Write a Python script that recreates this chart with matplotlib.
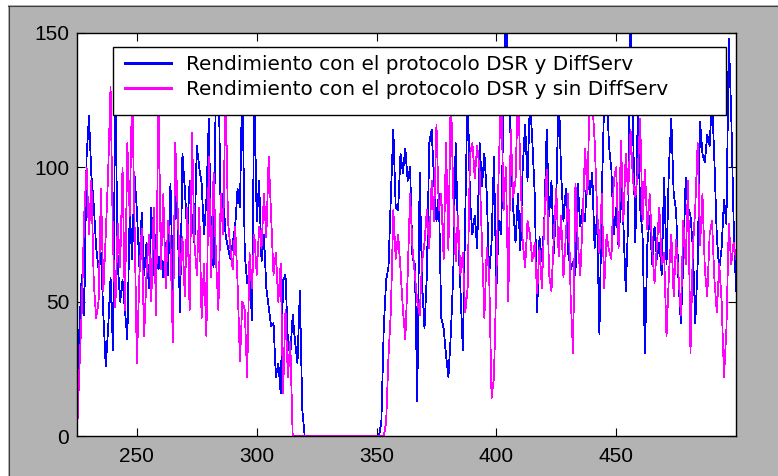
import numpy as np
import matplotlib
matplotlib.use('Agg')
import matplotlib.pyplot as plt
from matplotlib.patches import Rectangle
from matplotlib.lines import Line2D

W, H = 778, 476
DPI = 100
plt.rcParams['font.family'] = ['Liberation Sans', 'DejaVu Sans']

# ---------------- data ----------------
x_start = 225

blue_values = [
    0, 40, 60, 45, 104, 119, 97, 86, 70, 62,
    68, 45, 26, 40, 59, 32, 130, 64, 50, 58,
    47, 36, 84, 66, 97, 84, 63, 83, 60, 72,
    55, 85, 60, 75, 62, 68, 59, 72, 60, 94,
    54, 90, 80, 46, 105, 92, 75, 95, 80, 72,
    108, 100, 94, 75, 88, 118, 70, 63, 135, 140,
    80, 90, 75, 70, 66, 72, 78, 92, 85, 135,
    68, 57, 62, 43, 130, 80, 95, 65, 75, 55,
    48, 41, 42, 22, 27, 16, 58, 60, 35, 30,
    45, 35, 27, 54, 10, 0,
    0, 0, 0, 0, 0, 0, 0, 0, 0, 0,
    0, 0, 0, 0, 0, 0, 0, 0, 0, 0,
    0, 0, 0, 0, 0, 0, 0, 0, 0, 0,
    0,
    5, 40, 58, 63, 90, 114, 85, 84, 105, 98,
    107, 95, 100, 66, 64, 13, 98, 57, 40, 60,
    109, 114, 95, 80, 90, 44, 40, 30, 22, 38,
    60, 109, 75, 55, 32, 80, 130, 88, 75, 82,
    70, 109, 93, 105, 90, 60, 72, 104, 54, 80,
    75, 125, 160, 130, 110, 85, 72, 90, 69, 100,
    116, 95, 125, 110, 90, 46, 74, 65, 80, 114,
    82, 95, 68, 88, 130, 98, 80, 92, 68, 62,
    65, 60, 94, 78, 85, 80, 100, 90, 98, 70,
    82, 38, 90, 125, 130, 108, 99, 75, 85,
    70, 92, 79, 54, 80, 160, 115, 72, 119, 85,
    75, 31, 71, 82, 64, 78, 66, 72, 60, 96,
    64, 100, 118, 90, 84, 58, 42, 65, 96, 85,
    82, 70, 42, 64, 117, 105, 102, 112, 108, 126,
    102, 74, 62, 70, 88, 79, 148, 120, 80, 54,
]

magenta_values = [
    0, 25, 47, 82, 100, 75, 95, 57, 44, 50,
    92, 54, 75, 98, 130, 72, 48, 79, 63, 100,
    47, 109, 82, 130, 80, 27, 59, 77, 37, 60,
    75, 50, 85, 45, 130, 62, 90, 55, 80, 72,
    35, 109, 84, 60, 74, 52, 85, 47, 113, 72,
    60, 85, 44, 64, 37, 104, 59, 98, 66, 47,
    90, 75, 130, 80, 70, 62, 78, 57, 28, 50,
    47, 22, 68, 55, 75, 60, 78, 70, 90, 74,
    104, 82, 60, 68, 50, 64, 16, 47, 22, 35,
    0, 0, 0, 0, 0, 0, 0, 0, 0, 0,
    0, 0, 0, 0, 0, 0, 0, 0, 0, 0,
    0, 0, 0, 0, 0, 0, 0, 0, 0, 0,
    0, 0, 0, 0, 0, 0, 0, 0, 0,
    5, 30, 47, 84, 66, 75, 62, 47, 36, 60,
    90, 70, 60, 50, 45, 65, 72, 84, 70, 95,
    80, 116, 84, 90, 66, 109, 69, 130, 90, 65,
    82, 60, 68, 46, 55, 105, 109, 96, 108, 99,
    72, 44, 70, 60, 14, 22, 59, 100,
    130, 84, 100, 50, 114, 89, 95, 130, 100, 72,
    63, 80, 75, 65, 72, 53, 70, 55, 80, 99,
    60, 54, 75, 92, 67, 82, 59, 75, 90, 52,
    31, 94, 72, 60, 80, 107, 90, 130, 125, 110,
    85, 68, 90, 55, 75, 69, 66, 95, 100,
    70, 110, 80, 105, 90, 114, 95, 89, 98, 118,
    80, 99, 77, 90, 70, 57, 71, 85, 64, 68,
    37, 60, 75, 52, 73, 60, 45, 80, 64, 95,
    31, 70, 85, 109, 71, 90, 62, 52, 75, 80,
    58, 46, 64, 50, 22, 40, 79, 64, 72, 66,
]

series_labels = ['Rendimiento con el protocolo DSR y DiffServ',
                 'Rendimiento con el protocolo DSR y sin DiffServ']
x_ticks = [250, 300, 350, 400, 450]
y_ticks = [0, 50, 100, 150]

x_blue = x_start + np.arange(len(blue_values))
x_mag = x_start + np.arange(len(magenta_values))

# ---------------- figure ----------------
fig = plt.figure(figsize=(W / DPI, H / DPI), dpi=DPI, facecolor='white')

def fx(px):
    return px / W

def fy(py):
    return 1 - py / H

# gray window panel with dark top/left edge
fig.patches.append(Rectangle((fx(8), 0), 1 - fx(8), fy(5), transform=fig.transFigure,
                             facecolor='#b3b3b3', edgecolor='none', zorder=-2))
fig.lines.append(Line2D([fx(8.5), fx(8.5)], [0, fy(5.5)], transform=fig.transFigure,
                        color='#404040', lw=0.8, zorder=-1))
fig.lines.append(Line2D([fx(8), 1], [fy(5.5), fy(5.5)], transform=fig.transFigure,
                        color='#404040', lw=0.8, zorder=-1))

ax = fig.add_axes([fx(77), fy(436), fx(736) - fx(77), fy(33) - fy(436)])
ax.set_facecolor('white')
ax.plot(x_blue, blue_values, color='#0000ff', lw=0.55, antialiased=False,
        label=series_labels[0])
ax.plot(x_mag, magenta_values, color='#ff00ff', lw=0.55, antialiased=False,
        label=series_labels[1])
ax.set_xlim(225, 500)
ax.set_ylim(0, 150)
ax.set_xticks(x_ticks)
ax.set_yticks(y_ticks)
ax.tick_params(axis='both', direction='in', length=5.5, width=0.8, top=True, right=True,
               labelsize=15, colors='black')
ax.tick_params(axis='x', pad=8)
ax.tick_params(axis='y', pad=5.5)
for s in ax.spines.values():
    s.set_linewidth(1.0)
    s.set_color('black')

# legend box
box = Rectangle((fx(113), fy(115)), fx(726) - fx(113), fy(47) - fy(115),
                transform=fig.transFigure, facecolor='white', edgecolor='black',
                lw=1.0, zorder=4, clip_on=False)
ax.add_patch(box)
leg = ax.legend(frameon=False, loc='upper left', bbox_to_anchor=(fx(125), fy(54.5)),
                bbox_transform=fig.transFigure, borderpad=0, borderaxespad=0,
                handlelength=2.3, handletextpad=0.75, labelspacing=0.33,
                prop={'family': 'DejaVu Sans', 'size': 14.4})
leg.set_zorder(5)
for line in leg.get_lines():
    line.set_linewidth(0.75)
    line.set_antialiased(False)

fig.savefig('out.png', dpi=DPI, facecolor=fig.get_facecolor())
